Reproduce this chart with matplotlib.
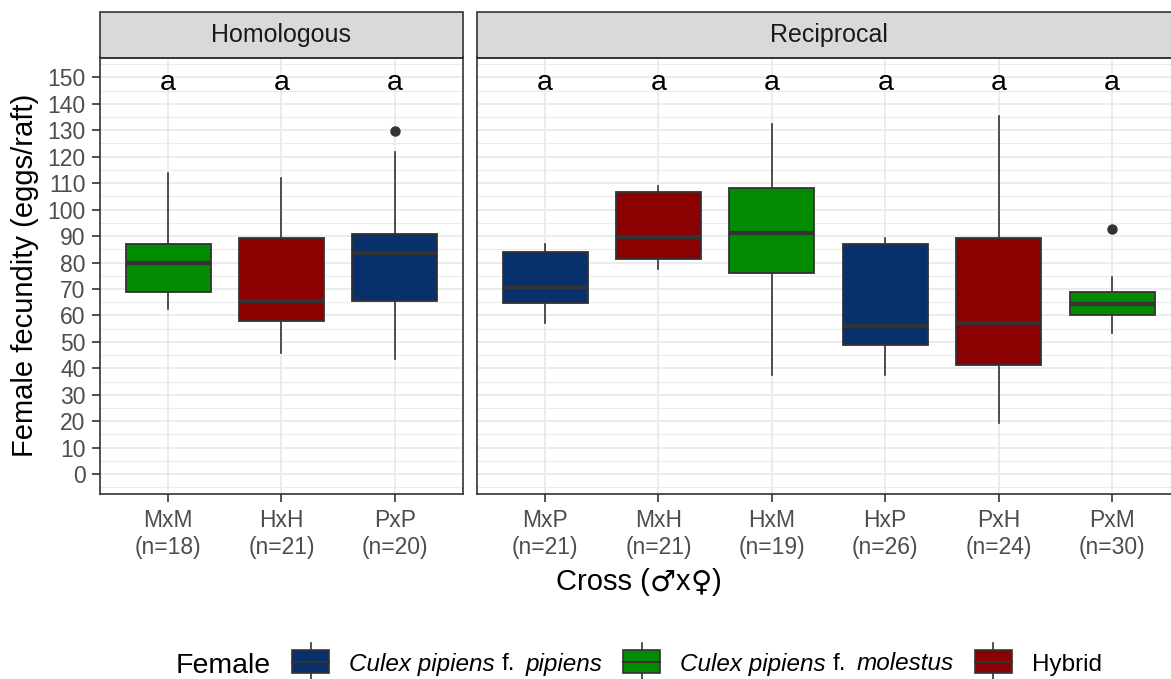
import matplotlib
matplotlib.use("Agg")
import matplotlib.pyplot as plt
from matplotlib.patches import Rectangle
from matplotlib.lines import Line2D
from matplotlib.ticker import MultipleLocator

plt.rcParams['font.family'] = ['Liberation Sans', 'DejaVu Sans']

# ---------------- data ----------------
homo_crosses = ["MxM", "HxH", "PxP"]
homo_n = [18, 21, 20]
homo_female = ["molestus", "hybrid", "pipiens"]
homo_whislo = [62.4, 45.7, 43.5]
homo_q1 = [68.7, 58.0, 65.5]
homo_med = [80.0, 65.4, 83.6]
homo_q3 = [87.0, 89.1, 90.7]
homo_whishi = [113.7, 111.9, 121.9]
homo_fliers = [[], [], [129.8]]
homo_letters = ["a", "a", "a"]

reci_crosses = ["MxP", "MxH", "HxM", "HxP", "PxH", "PxM"]
reci_n = [21, 21, 19, 26, 24, 30]
reci_female = ["pipiens", "hybrid", "molestus", "pipiens", "hybrid", "molestus"]
reci_whislo = [57.1, 77.5, 37.4, 37.4, 19.3, 53.3]
reci_q1 = [64.7, 81.3, 76.0, 48.9, 41.3, 60.1]
reci_med = [70.6, 89.5, 91.0, 56.1, 57.0, 64.5]
reci_q3 = [83.8, 106.7, 108.0, 87.0, 89.1, 68.7]
reci_whishi = [87.0, 109.0, 132.3, 89.2, 135.5, 74.4]
reci_fliers = [[], [], [], [], [], [92.6]]
reci_letters = ["a", "a", "a", "a", "a", "a"]

letter_y = 148
facet_titles = ["Homologous", "Reciprocal"]
y_title = "Female fecundity (eggs/raft)"
x_title_parts = [("Cross (", False), ("\u2642", True), ("x", False), ("\u2640", True), (")", False)]
legend_title = "Female"
female_levels = ["pipiens", "molestus", "hybrid"]
female_label_parts = {
    "pipiens": [("Culex pipiens", True), ("f.", False), ("pipiens", True)],
    "molestus": [("Culex pipiens", True), ("f.", False), ("molestus", True)],
    "hybrid": [("Hybrid", False)],
}
female_colors = {"pipiens": "#08306B", "molestus": "#008B00", "hybrid": "#8B0000"}

# ---------------- style ----------------
W, H = 1171, 679
EDGE = "#333333"
GRID = "#EBEBEB"
TICKC = "#4D4D4D"
ylim = (-7.5, 157.5)

fig = plt.figure(figsize=(W / 100, H / 100), dpi=100)
fig.patch.set_facecolor("white")

def fx(px):
    return px / W

def fy(py):
    return 1 - py / H

panel_top, panel_bot = 57.5, 494.0
unit_px = 113.4
strip_px = 45.8

def make_panel(left_px, crosses, ns, females, lo, q1, med, q3, hi, fliers, letters, title, first):
    n = len(crosses)
    width_px = (n + 0.2) * unit_px
    ax = fig.add_axes([fx(left_px), fy(panel_bot), width_px / W, (panel_bot - panel_top) / H])
    stats = []
    for i in range(n):
        stats.append(dict(whislo=lo[i], q1=q1[i], med=med[i], q3=q3[i],
                          whishi=hi[i], fliers=fliers[i]))
    pos = list(range(1, n + 1))
    bp = ax.bxp(stats, positions=pos, widths=0.75, patch_artist=True, showcaps=False,
                boxprops=dict(edgecolor=EDGE, linewidth=1.3),
                medianprops=dict(color=EDGE, linewidth=3.0, solid_capstyle='butt'),
                whiskerprops=dict(color=EDGE, linewidth=1.2),
                flierprops=dict(marker='o', markerfacecolor=EDGE, markeredgecolor=EDGE,
                                markersize=6.5, linestyle='none'),
                zorder=3)
    for patch, f in zip(bp['boxes'], females):
        patch.set_facecolor(female_colors[f])
    for p, lab in zip(pos, letters):
        ax.text(p, letter_y, lab, ha='center', va='center', fontsize=20.5, color='black', zorder=4)
    ax.set_xlim(0.4, n + 0.6)
    ax.set_ylim(*ylim)
    ax.set_xticks(pos)
    ax.set_xticklabels([f"{c}\n(n={k})" for c, k in zip(crosses, ns)])
    ax.yaxis.set_major_locator(MultipleLocator(10))
    ax.yaxis.set_minor_locator(MultipleLocator(5))
    ax.set_axisbelow(True)
    ax.grid(True, which='major', axis='both', color=GRID, linewidth=1.3)
    ax.grid(True, which='minor', axis='y', color=GRID, linewidth=0.75)
    for s in ax.spines.values():
        s.set_color(EDGE)
        s.set_linewidth(1.2)
    ax.tick_params(axis='both', which='major', length=5.8, width=1.2, color=EDGE,
                   labelcolor=TICKC, labelsize=16.5)
    ax.tick_params(axis='x', pad=5)
    ax.tick_params(axis='y', pad=4.5)
    ax.tick_params(axis='y', which='minor', left=False)
    if not first:
        ax.tick_params(axis='y', which='both', left=False, labelleft=False)
    sh = strip_px / (panel_bot - panel_top)
    ax.add_patch(Rectangle((0, 1), 1, sh, transform=ax.transAxes, clip_on=False,
                           facecolor="#D9D9D9", edgecolor=EDGE, linewidth=1.2))
    ax.text(0.5, 1 + sh / 2, title, transform=ax.transAxes, ha='center', va='center',
            fontsize=18, color="#1A1A1A")
    return ax

ax1 = make_panel(100.0, homo_crosses, homo_n, homo_female, homo_whislo, homo_q1, homo_med,
                 homo_q3, homo_whishi, homo_fliers, homo_letters, facet_titles[0], True)
ax2 = make_panel(477.0, reci_crosses, reci_n, reci_female, reci_whislo, reci_q1, reci_med,
                 reci_q3, reci_whishi, reci_fliers, reci_letters, facet_titles[1], False)

# y axis title
fig.text(fx(25), fy((panel_top + panel_bot) / 2), y_title,
         rotation=90, ha='center', va='center', fontsize=21, color='black')

fig.canvas.draw()
r = fig.canvas.get_renderer()

def text_w(t):
    return t.get_window_extent(r).width

# x axis title, laid out piecewise so the symbols use a font with larger glyphs
xt_base = 590.5
pieces = []
for s, sym in x_title_parts:
    t = fig.text(0, fy(xt_base), s, fontsize=21, color='black', va='baseline', ha='left',
                 family=['DejaVu Sans'] if sym else ['Liberation Sans', 'DejaVu Sans'])
    pieces.append((t, text_w(t)))
tot = sum(w for _, w in pieces)
x = 639 - tot / 2
for t, w in pieces:
    t.set_x(fx(x))
    x += w

# ---------------- legend ----------------
title_base = 673.3
label_base = 670.5
key_w, key_top, key_bot = 37.0, 650.0, 673.0
wh_top, wh_bot = 643.0, 681.0

items = []
t_title = fig.text(0, fy(title_base), legend_title, fontsize=20.5, color='black',
                   va='baseline', ha='left')
items.append(("text", t_title, text_w(t_title)))
items.append(("gap", None, 22))
for i, lev in enumerate(female_levels):
    items.append(("key", lev, key_w))
    items.append(("gap", None, 20))
    parts = female_label_parts[lev]
    for j, (s, ital) in enumerate(parts):
        t = fig.text(0, fy(label_base), s, fontsize=17.5, color='black', va='baseline', ha='left',
                     style='italic' if ital else 'normal')
        items.append(("text", t, text_w(t)))
        if j < len(parts) - 1:
            items.append(("gap", None, 7 if j == 0 else 10))
    if i < len(female_levels) - 1:
        items.append(("gap", None, 21))

total = sum(w for _, _, w in items)
x = 638.5 - total / 2
for kind, obj, w in items:
    if kind == "text":
        obj.set_x(fx(x))
    elif kind == "key":
        cx = x + w / 2
        fig.add_artist(Rectangle((fx(x), fy(key_bot)), w / W, (key_bot - key_top) / H,
                                 transform=fig.transFigure, facecolor=female_colors[obj],
                                 edgecolor=EDGE, linewidth=1.2, zorder=3))
        fig.add_artist(Line2D([fx(cx), fx(cx)], [fy(wh_top), fy(key_top)],
                              transform=fig.transFigure, color=EDGE, linewidth=1.2))
        fig.add_artist(Line2D([fx(cx), fx(cx)], [fy(key_bot), fy(wh_bot)],
                              transform=fig.transFigure, color=EDGE, linewidth=1.2))
        mid = (key_top + key_bot) / 2
        fig.add_artist(Line2D([fx(x), fx(x + w)], [fy(mid), fy(mid)],
                              transform=fig.transFigure, color=EDGE, linewidth=1.5, zorder=4))
    x += w

fig.savefig("out.png", dpi=100, facecolor="white")
